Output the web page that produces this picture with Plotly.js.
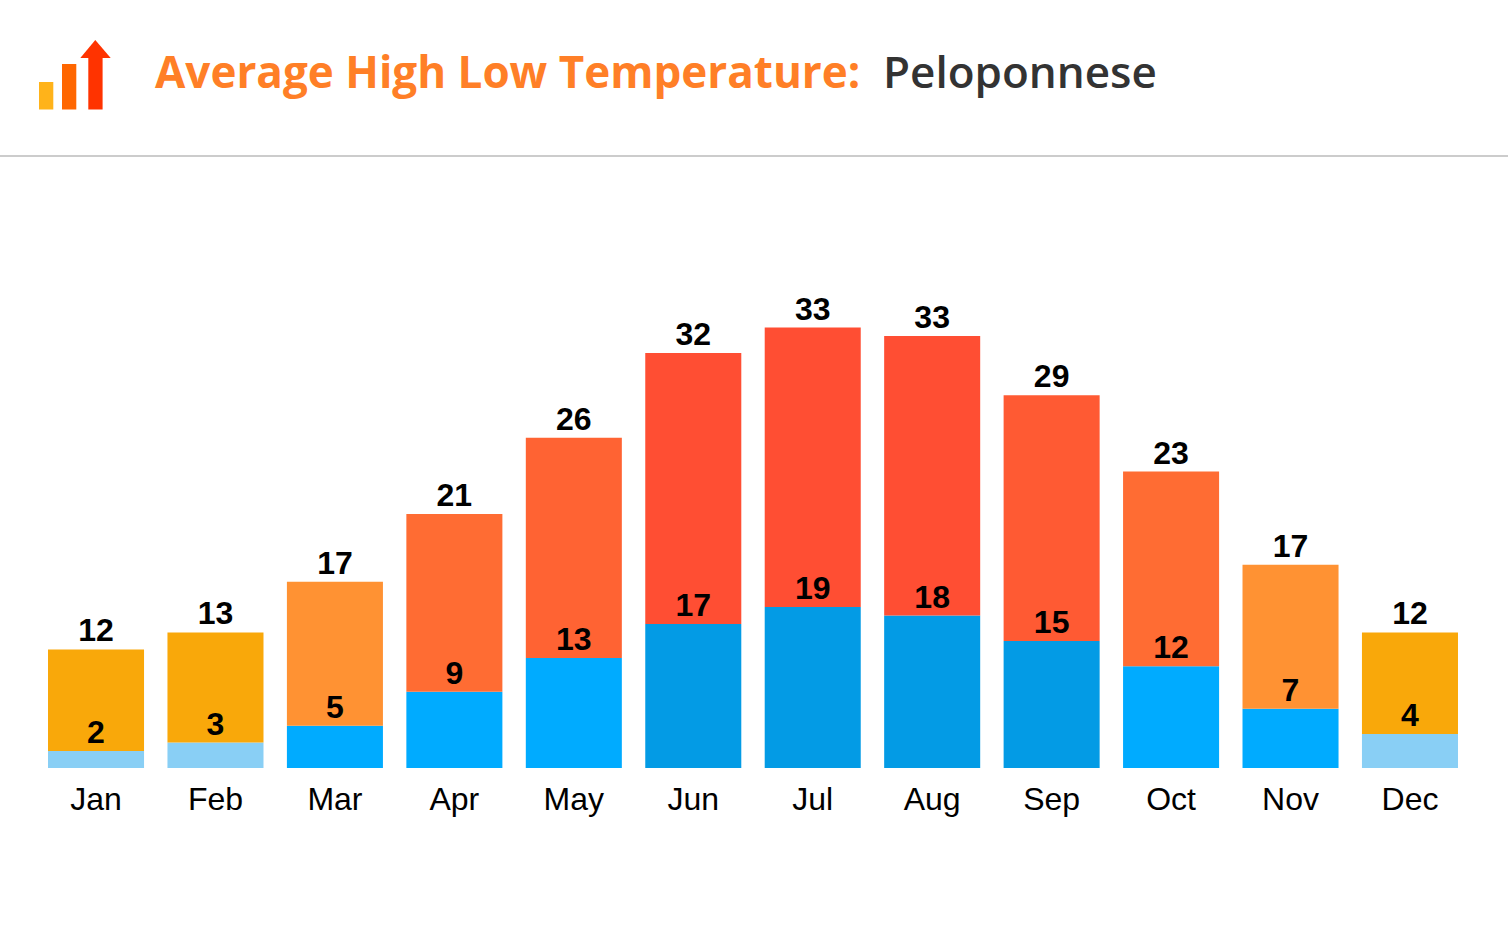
<!DOCTYPE html>
<html>
<head>
<meta charset="utf-8">
<script src="https://cdn.plot.ly/plotly-3.0.1.min.js"></script>
<style>html,body{margin:0;padding:0;background:#fff;overflow:hidden}#chart{width:1508px;height:944px}</style>
</head>
<body>
<div id="chart"></div>
<script>
const months = ["Jan","Feb","Mar","Apr","May","Jun","Jul","Aug","Sep","Oct","Nov","Dec"];
const highs = [12,13,17,21,26,32,33,33,29,23,17,12];
const lows = [2,3,5,9,13,17,19,18,15,12,7,4];
const highColors = ["#F9A80A","#F9A80A","#FF9233","#FF6C33","#FF6333","#FF4E33","#FF4E33","#FF4E33","#FF5A33","#FF6C33","#FF9233","#F9A80A"];
const lowColors = ["#89CFF5","#89CFF5","#00ABFF","#00ABFF","#00ABFF","#039BE5","#039BE5","#039BE5","#039BE5","#00ABFF","#00ABFF","#89CFF5"];
const W = 1508, H = 944;
const px = v => v / W, py = v => 1 - v / H;
const labelFont = {family:'"Liberation Sans", Arial, sans-serif', size:32, color:"#000", weight:700};
const stackTops = lows.map((v,i) => v + highs[i]);
const traces = [
  {type:"bar", name:"Low", x:months, y:lows, marker:{color:lowColors}, width:0.804},
  {type:"bar", name:"High", x:months, y:highs, base:lows, marker:{color:highColors}, width:0.804},
  {type:"scatter", mode:"text", x:months, y:lows, text:lows.map(String), textposition:"top center", textfont:labelFont, cliponaxis:false, hoverinfo:"skip"},
  {type:"scatter", mode:"text", x:months, y:stackTops, text:highs.map(String), textposition:"top center", textfont:labelFont, cliponaxis:false, hoverinfo:"skip"}
];
const baselineY = 768, unit = 8.47, yMax = 66;
const rect = (x0,y0,x1,y1,c) => ({type:"rect", xref:"paper", yref:"paper", x0:px(x0), x1:px(x1), y0:py(y0), y1:py(y1), fillcolor:c, line:{width:0}});
const arrow = `M ${px(80.3)} ${py(58)} L ${px(95.3)} ${py(40)} L ${px(110.7)} ${py(58)} Z`;
const layout = {
  width:W, height:H, margin:{l:0,r:0,t:0,b:0}, paper_bgcolor:"#fff", plot_bgcolor:"#fff",
  barmode:"overlay", showlegend:false, bargap:0.196,
  title:{text:"Average High Low Temperature:", xref:"paper", yref:"paper", x:px(155), xanchor:"left", y:py(73), yanchor:"middle",
         font:{family:'"Open Sans", sans-serif', size:44, color:"#FF7F27", weight:700}},
  annotations:[{text:"Peloponnese", xref:"paper", yref:"paper", x:px(881), y:py(71), xanchor:"left", yanchor:"middle", showarrow:false,
         font:{family:'"Open Sans", sans-serif', size:44, color:"#333333", weight:600}}],
  xaxis:{domain:[px(36.3),px(1469.7)], type:"category", categoryorder:"array", categoryarray:months, range:[-0.5,11.5],
         showgrid:false, zeroline:false, showline:false, ticks:"outside", ticklen:3, tickcolor:"rgba(0,0,0,0)",
         tickfont:{family:'"Liberation Sans", Arial, sans-serif', size:32, color:"#000"}},
  yaxis:{domain:[py(baselineY),py(baselineY-yMax*unit)], range:[0,yMax], showgrid:false, zeroline:false, showline:false, showticklabels:false, ticks:""},
  shapes:[
    rect(0,155,W,157,"#CCCCCC"),
    rect(39,82,53.3,109.5,"#FFB31A"),
    rect(62,64,76.3,109.5,"#FF6600"),
    rect(88.3,57.5,102.6,109.5,"#FF3300"),
    {type:"path", xref:"paper", yref:"paper", path:arrow, fillcolor:"#FF3300", line:{width:0}}
  ]
};
Plotly.newPlot("chart", traces, layout, {displayModeBar:false, responsive:false});
</script>
</body>
</html>
